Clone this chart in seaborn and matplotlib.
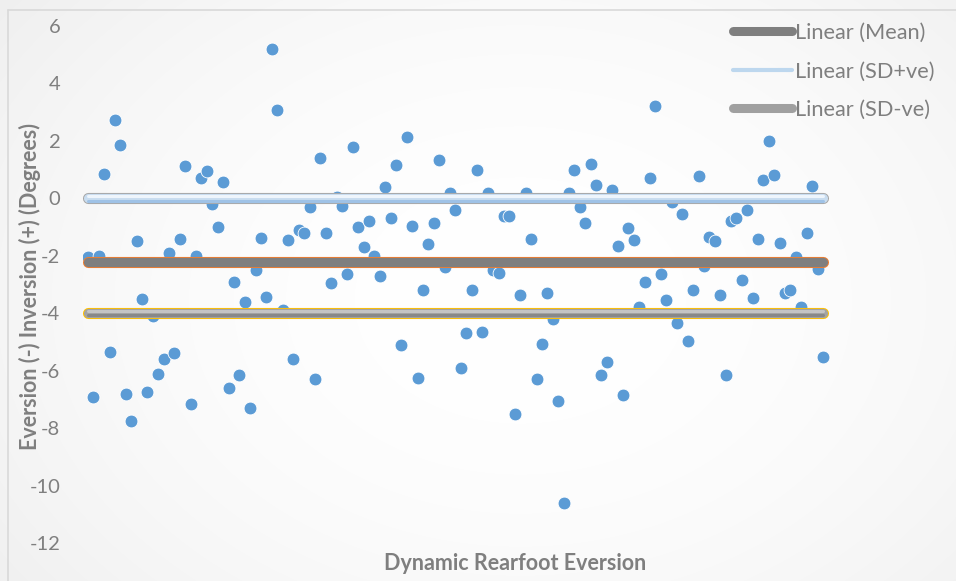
import numpy as np
import pandas as pd
import matplotlib
matplotlib.use("Agg")
import matplotlib.pyplot as plt
import matplotlib.transforms as mtransforms
from matplotlib.lines import Line2D
import seaborn as sns

# ================= DATA =================
# rearfoot angle per trial (degrees), trial index 1..137
eversion = [
    -2.05, -6.9, -2.0, 0.83, -5.35, 2.73, 1.85, -6.8, -7.75, -1.5,
    -3.5, -6.75, -4.1, -6.1, -5.6, -1.9, -5.4, -1.4, 1.12, -7.15,
    -2.0, 0.7, 0.95, -0.2, -1.0, 0.57, -6.6, -2.9, -6.15, -3.6,
    -7.3, -2.5, -1.37, -3.45, 5.2, 3.07, -3.9, -1.45, -5.6, -1.1,
    -1.2, -0.3, -6.3, 1.4, -1.2, -2.95, 0.05, -0.27, -2.65, 1.8,
    -1.0, -1.7, -0.8, -2.0, -2.7, 0.4, -0.7, 1.15, -5.1, 2.15,
    -0.95, -6.25, -3.2, -1.6, -0.85, 1.35, -2.4, 0.2, -0.4, -5.9,
    -4.7, -3.2, 1.0, -4.65, 0.2, -2.5, -2.6, -0.6, -0.63, -7.5,
    -3.35, 0.2, -1.4, -6.3, -5.07, -3.3, -4.2, -7.05, -10.6, 0.2,
    1.0, -0.3, -0.85, 1.2, 0.45, -6.15, -5.7, 0.3, -1.67, -6.85,
    -1.05, -1.45, -3.8, -2.9, 0.7, 3.2, -2.65, -3.55, -0.12, -4.35,
    -0.53, -4.97, -3.2, 0.77, -2.35, -1.35, -1.5, -3.37, -6.15, -0.8,
    -0.67, -2.83, -0.42, -3.47, -1.4, 0.63, 2.0, 0.8, -1.57, -3.3,
    -3.18, -2.05, -3.8, -1.2, 0.42, -2.45, -5.52,
]
trial = list(range(1, len(eversion) + 1))

MEAN_LINE = -2.21
SD_POS_LINE = 0.0
SD_NEG_LINE = -4.0

Y_TICKS = [6, 4, 2, 0, -2, -4, -6, -8, -10, -12]
LEGEND_LABELS = ["Linear (Mean)", "Linear (SD+ve)", "Linear (SD-ve)"]

df = pd.DataFrame({"trial": trial, "eversion": eversion})

# ================= STYLE =================
sns.set_style("white")
plt.rcParams["font.family"] = ["Lato", "DejaVu Sans"]
GREY_TXT = "#7f7f7f"
W, H = 956, 581

fig = plt.figure(figsize=(W / 100, H / 100), dpi=100)

# subtle radial background like the excel chart area
bg = fig.add_axes([0, 0, 1, 1], zorder=-10)
yy, xx = np.mgrid[0:H, 0:W]
r = np.sqrt(((xx - 520) / 700.0) ** 2 + ((yy - 300) / 520.0) ** 2)
shade = 1.0 - 0.07 * np.clip(r, 0, 1.2) ** 2
bg.imshow(np.dstack([shade, shade, shade]), aspect="auto", extent=[0, W, H, 0])
bg.plot([8, 8], [10, H], color="#d9d9d9", lw=1.2)
bg.plot([8, W], [10, 10], color="#d9d9d9", lw=1.2)
bg.set_xlim(0, W)
bg.set_ylim(H, 0)
bg.axis("off")

ax_left, ax_right = 82.6, 947.2
ax = fig.add_axes([ax_left / W, (H - 543) / H, (ax_right - ax_left) / W, (543 - 26) / H])
ax.patch.set_alpha(0)

sns.scatterplot(data=df, x="trial", y="eversion", ax=ax, s=85, color="#5b9bd5",
                edgecolor="white", linewidth=0.6, zorder=2, legend=False)

x_ends = [trial[0], trial[-1]]
up = mtransforms.offset_copy(ax.transData, fig=fig, x=0, y=1.6, units="points")
dn = mtransforms.offset_copy(ax.transData, fig=fig, x=0, y=-1.6, units="points")

def trend(y, outer, inner, hi=None, lo=None):
    kw = dict(solid_capstyle="round", zorder=3)
    ax.plot(x_ends, [y, y], color=outer, lw=8.0, **kw)
    ax.plot(x_ends, [y, y], color=inner, lw=6.6, **kw)
    if lo:
        ax.plot(x_ends, [y, y], color=lo, lw=2.2, transform=dn, **kw)
    if hi:
        ax.plot(x_ends, [y, y], color=hi, lw=2.2, transform=up, **kw)

trend(SD_POS_LINE, "#a6a6a6", "#c9ddf0", hi="#eef5fc", lo="#9fc2e6")
trend(MEAN_LINE, "#ed7d31", "#7f7f7f")
trend(SD_NEG_LINE, "#ffc000", "#a3a3a3", hi="#c4c4c4", lo="#888888")

ax.set_xlim(0, 160)
ax.set_ylim(-12, 6)
ax.set_yticks(Y_TICKS)
ax.set_yticklabels([str(t) for t in Y_TICKS])
ax.set_xticks([])
ax.tick_params(axis="y", length=0, pad=16, labelsize=14.5, labelcolor=GREY_TXT)
for s in ax.spines.values():
    s.set_visible(False)
ax.set_xlabel("")
ax.set_ylabel("")

fig.text(515 / W, 1 - 563 / H, "Dynamic Rearfoot Eversion", ha="center", va="center",
         fontsize=15.5, fontweight="bold", color=GREY_TXT)
fig.text(30 / W, 1 - 286 / H, "Eversion (-) Inversion (+) (Degrees)", ha="center",
         va="center", rotation=90, fontsize=15.5, fontweight="bold", color=GREY_TXT)

handles = [
    Line2D([], [], color="#7f7f7f", lw=6.5, solid_capstyle="round"),
    Line2D([], [], color="#bdd7ee", lw=3.0, solid_capstyle="round"),
    Line2D([], [], color="#a0a0a0", lw=6.5, solid_capstyle="round"),
]
leg = fig.legend(handles, LEGEND_LABELS, loc="upper left",
                 bbox_to_anchor=(733 / W, 1 - 23 / H), frameon=False, fontsize=15.7,
                 handlelength=2.72, handletextpad=0.12, labelspacing=0.85,
                 borderpad=0, borderaxespad=0)
for t in leg.get_texts():
    t.set_color(GREY_TXT)

fig.savefig("out.png", dpi=100)
